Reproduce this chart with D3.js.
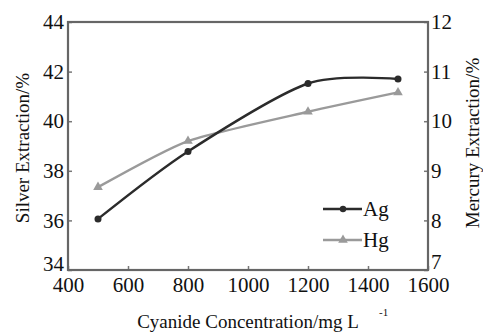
<!DOCTYPE html>
<html>
<head>
  <meta charset='utf-8'>
  <title>Silver and Mercury Extraction</title>
  <style>
    body { margin: 0; background: #fff; }
    #chart text { font-family: 'Liberation Serif', serif !important; }
  </style>
  <script src='https://cdn.jsdelivr.net/npm/d3@7/dist/d3.min.js'></script>
</head>
<body>
  <svg id='chart' width='483' height='334'></svg>
  <script>
    // values
    const concentrations = [500, 800, 1200, 1500];
    const silver = [36.06, 38.78, 41.52, 41.7];
    const mercury = [8.67, 9.6, 10.19, 10.58];
    const xTicks = [400, 600, 800, 1000, 1200, 1400, 1600];
    const yLeftTicks = [34, 36, 38, 40, 42, 44];
    const yRightTicks = [7, 8, 9, 10, 11, 12];

    const FONT = "'Liberation Serif', serif";
    const margin = { top: 22, right: 55, bottom: 64, left: 68 };
    const width = 483 - margin.left - margin.right;
    const height = 334 - margin.top - margin.bottom;

    const svg = d3.select('#chart');
    const g = svg.append('g')
        .attr('transform', `translate(${margin.left}, ${margin.top})`);

    const x = d3.scaleLinear().domain([400, 1600]).range([0, width]);
    const yL = d3.scaleLinear().domain([34, 44]).range([height, 0]);
    const yR = d3.scaleLinear().domain([7, 12]).range([height, 0]);

    // inward ticks on bottom, left and right
    const fmt = d3.format('d');
    const xAxis = d3.axisBottom(x).tickValues(xTicks).tickFormat(fmt)
        .tickSizeInner(-4).tickSizeOuter(0).tickPadding(8);
    const yAxisL = d3.axisLeft(yL).tickValues(yLeftTicks).tickFormat(fmt)
        .tickSizeInner(-4).tickSizeOuter(0).tickPadding(4);
    const yAxisR = d3.axisRight(yR).tickValues(yRightTicks).tickFormat(fmt)
        .tickSizeInner(-4).tickSizeOuter(0).tickPadding(3);

    function styleAxis(sel) {
        sel.attr('font-family', FONT);
        sel.select('.domain').remove();
        sel.selectAll('line').attr('stroke', '#777').attr('stroke-width', 1.5);
        sel.selectAll('text')
            .attr('font-family', FONT)
            .attr('font-size', 21)
            .attr('fill', '#111');
    }
    const gx = g.append('g').attr('transform', `translate(0, ${height})`).call(xAxis).call(styleAxis);
    gx.selectAll('text').attr('dy', '0.68em');
    const gl = g.append('g').call(yAxisL).call(styleAxis);
    const gr = g.append('g').attr('transform', `translate(${width}, 0)`).call(yAxisR).call(styleAxis);
    // end labels sit a bit higher so they clear the x labels
    gl.selectAll('text').filter(d => d === 34).attr('dy', '0.02em');
    gr.selectAll('text').filter(d => d === 7).attr('dy', '-0.08em');

    // frame
    g.append('rect')
        .attr('width', width).attr('height', height)
        .attr('fill', 'none').attr('stroke', '#666').attr('stroke-width', 2.2);

    const agData = concentrations.map((c, i) => ({ c, v: silver[i] }));
    const hgData = concentrations.map((c, i) => ({ c, v: mercury[i] }));

    const agColor = '#2b2b2b';
    const hgColor = '#9a9a9a';

    const hgLine = d3.line().x(d => x(d.c)).y(d => yR(d.v)).curve(d3.curveCardinal.tension(0.4));
    const agLine = d3.line().x(d => x(d.c)).y(d => yL(d.v)).curve(d3.curveCardinal.tension(0.2));

    g.append('path').datum(hgData).attr('d', hgLine)
        .attr('fill', 'none').attr('stroke', hgColor).attr('stroke-width', 2.4);
    g.append('path').datum(agData).attr('d', agLine)
        .attr('fill', 'none').attr('stroke', agColor).attr('stroke-width', 2.4);

    const tri = d3.symbol().type(d3.symbolTriangle).size(40);
    g.selectAll('.hg').data(hgData).enter().append('path')
        .attr('transform', d => `translate(${x(d.c)}, ${yR(d.v)})`)
        .attr('d', tri).attr('fill', hgColor);
    g.selectAll('.ag').data(agData).enter().append('circle')
        .attr('cx', d => x(d.c)).attr('cy', d => yL(d.v)).attr('r', 3.5)
        .attr('fill', agColor);

    // legend
    const legend = g.append('g').attr('transform', 'translate(255, 187)');
    const items = [
        { name: 'Ag', color: agColor, y: 0, mark: 'circle' },
        { name: 'Hg', color: hgColor, y: 31, mark: 'tri' }
    ];
    items.forEach(it => {
        legend.append('line').attr('x1', 0).attr('x2', 39).attr('y1', it.y).attr('y2', it.y)
            .attr('stroke', it.color).attr('stroke-width', 2.4);
        if (it.mark === 'circle') {
            legend.append('circle').attr('cx', 20).attr('cy', it.y).attr('r', 3.2).attr('fill', it.color);
        } else {
            legend.append('path').attr('transform', `translate(20, ${it.y})`).attr('d', tri).attr('fill', it.color);
        }
        legend.append('text').attr('x', 40).attr('y', it.y).attr('dy', '0.35em')
            .attr('font-family', FONT).attr('font-size', 21).attr('fill', '#111').text(it.name);
    });

    // axis titles
    function title(sel) {
        return sel.attr('font-family', FONT).attr('font-size', 19).attr('fill', '#111');
    }
    svg.append('text').attr('x', 248).attr('y', 328).attr('text-anchor', 'middle')
        .call(title).text('Cyanide Concentration/mg L');
    svg.append('text').attr('x', 379).attr('y', 316).attr('font-family', FONT)
        .attr('font-size', 11).attr('fill', '#111').text('-1');
    svg.append('text').attr('transform', 'translate(29, 148) rotate(-90)').attr('text-anchor', 'middle')
        .call(title).text('Silver Extraction/%');
    svg.append('text').attr('transform', 'translate(479, 143) rotate(-90)').attr('text-anchor', 'middle')
        .call(title).text('Mercury Extraction/%');
  </script>
</body>
</html>
